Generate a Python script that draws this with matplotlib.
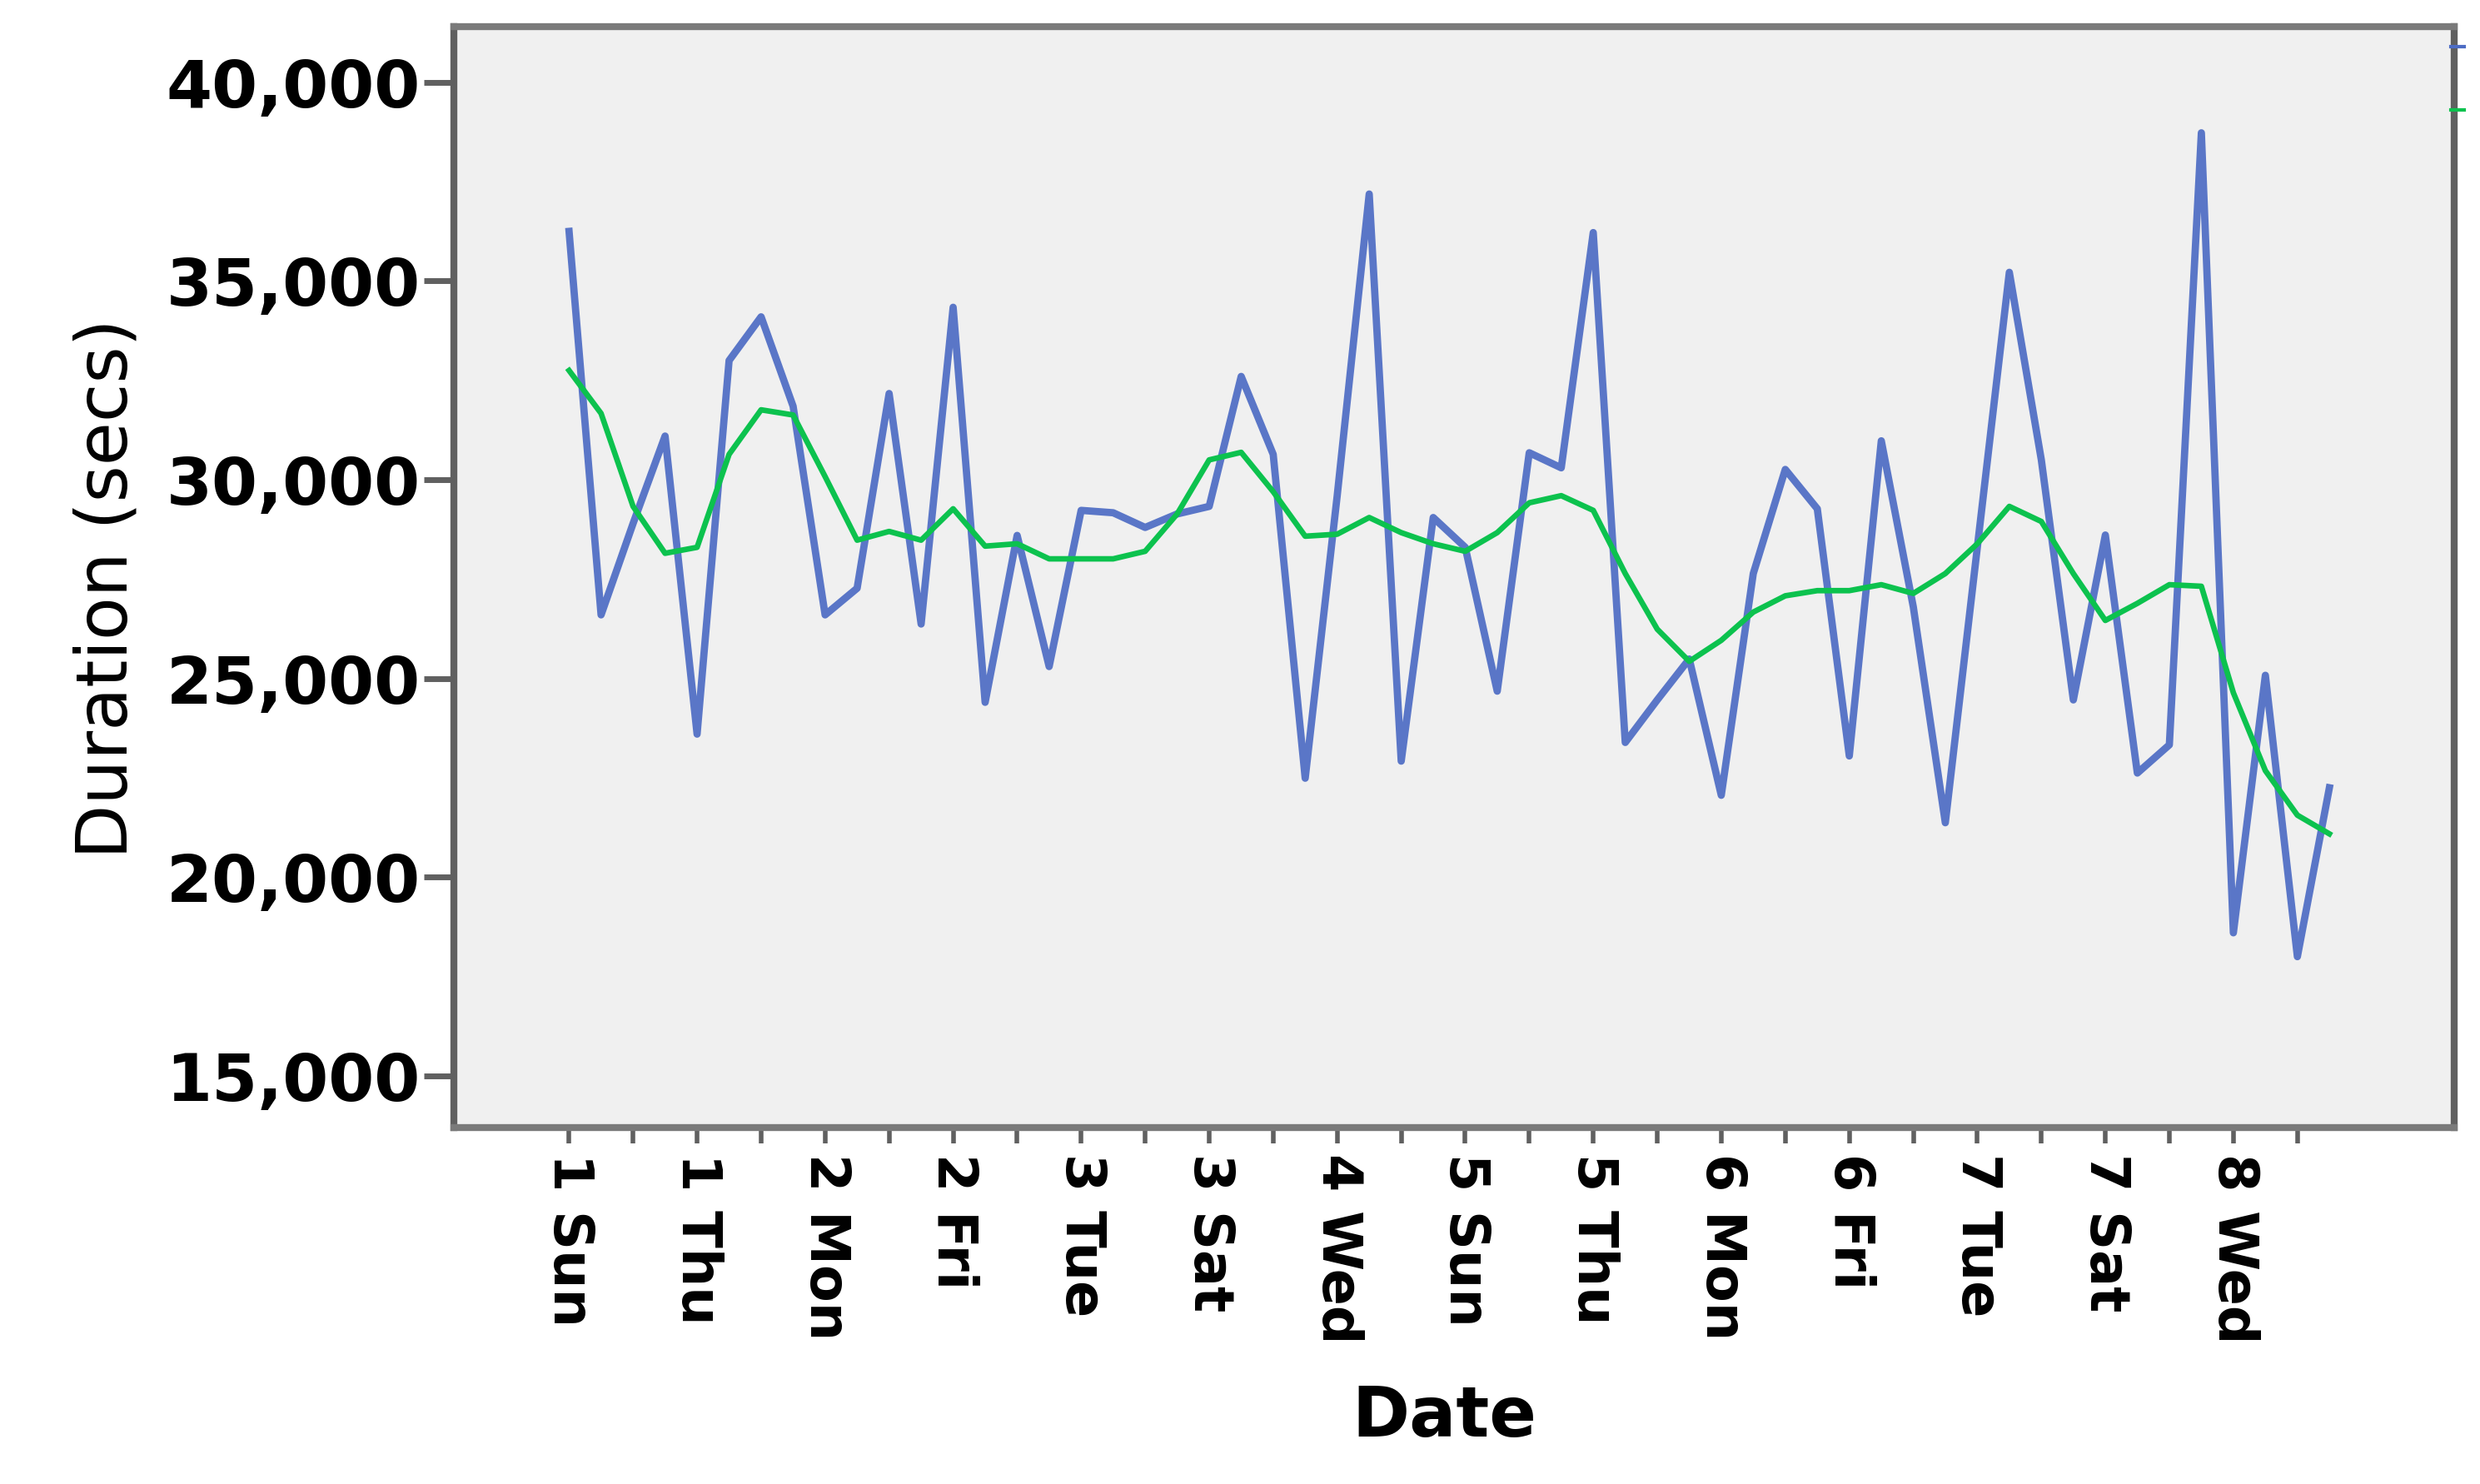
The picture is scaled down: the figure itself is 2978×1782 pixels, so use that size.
import matplotlib
matplotlib.use("Agg")
import matplotlib.pyplot as plt
from matplotlib.lines import Line2D
from matplotlib.ticker import FuncFormatter, FixedLocator

# day index (0 = week 1 Sunday)
days = list(range(56))

duration = [
    36250, 26600, 28900, 31100, 23600, 33000, 34100, 31850, 26600, 27270,
    32170, 26370, 34340, 24400, 28600, 25300, 29230, 29170, 28800, 29140,
    29330, 32600, 30640, 22490, 29600, 37190, 22920, 29050, 28300, 24680,
    30680, 30300, 36220, 23390, 24460, 25490, 22060, 27640, 30260, 29270,
    23050, 30980, 26800, 21370, 28300, 35220, 30500, 24460, 28610, 22620,
    23330, 38730, 18600, 25080, 18000, 22250,
]

smoothed = [
    32750, 31670, 29330, 28150, 28300, 30640, 31760, 31630, 30080, 28480,
    28700, 28480, 29270, 28330, 28390, 28010, 28010, 28010, 28200, 29140,
    30500, 30690, 29700, 28580, 28630, 29050, 28670, 28390, 28200, 28670,
    29420, 29600, 29230, 27640, 26240, 25430, 25960, 26670, 27080, 27210,
    27210, 27360, 27140, 27640, 28390, 29330, 28950, 27640, 26460, 26890,
    27360, 27320, 24640, 22680, 21560, 21090,
]

label_days = [0, 4, 8, 12, 16, 20, 24, 28, 32, 36, 40, 44, 48, 52]
label_text = ["1 Sun", "1 Thu", "2 Mon", "2 Fri", "3 Tue", "3 Sat", "4 Wed",
              "5 Sun", "5 Thu", "6 Mon", "6 Fri", "7 Tue", "7 Sat", "8 Wed"]
y_ticks = [15000, 20000, 25000, 30000, 35000, 40000]

BLUE = "#4d6cc4"
GREEN = "#0cc24e"
SPINE = "#606060"

fig = plt.figure(figsize=(29.78, 17.82), dpi=100)
ax = fig.add_axes([0.183, 0.2402, 0.8066, 0.7418])
ax.set_facecolor("#f0f0f0")

ax.plot(days, duration, color=BLUE, linewidth=6.3, alpha=0.92, zorder=2)
ax.plot(days, smoothed, color=GREEN, linewidth=4.8, zorder=3)

ax.set_xlim(-3.6, 58.9)
ax.set_ylim(13700, 41400)

ax.yaxis.set_major_locator(FixedLocator(y_ticks))
ax.yaxis.set_major_formatter(FuncFormatter(lambda v, p: f"{int(v):,}"))
ax.xaxis.set_major_locator(FixedLocator(label_days))
ax.xaxis.set_minor_locator(FixedLocator([d for d in range(2, 55, 4)]))
ax.set_xticklabels(label_text)

for lab in ax.get_yticklabels():
    lab.set_fontweight("bold")
for lab in ax.get_xticklabels():
    lab.set_fontweight("bold")
    lab.set_rotation(-90)
    lab.set_ha("center")
    lab.set_va("top")

ax.tick_params(axis="y", length=26, width=5, color=SPINE, labelsize=57, pad=3)
ax.tick_params(axis="x", which="both", length=14, width=4, color=SPINE, labelsize=47, pad=8)

for side in ["left", "right", "top", "bottom"]:
    ax.spines[side].set_color(SPINE)
    ax.spines[side].set_linewidth(6)
ax.spines["top"].set_color("#7a7a7a")
ax.spines["bottom"].set_color("#7a7a7a")

ax.set_ylabel("Duration (secs)", fontsize=61)
ax.yaxis.set_label_coords(-0.156, 0.49)
ax.set_xlabel("Date", fontsize=60, fontweight="bold")
ax.xaxis.set_label_coords(0.495, -0.232)

# cut-off legend swatches at the right edge
fig.add_artist(Line2D([0.9883, 0.9937], [0.9686, 0.9686], color=BLUE, linewidth=3))
fig.add_artist(Line2D([0.9883, 0.9937], [0.9259, 0.9259], color=GREEN, linewidth=3))

fig.savefig("out.png", dpi=100, facecolor="white")
